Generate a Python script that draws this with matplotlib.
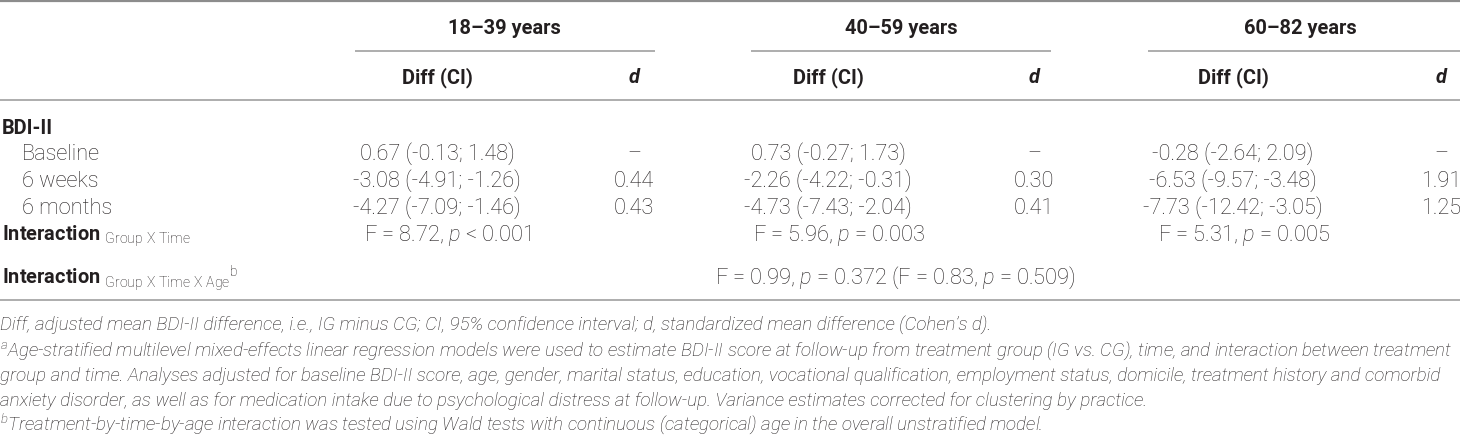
import matplotlib
matplotlib.use("Agg")
import matplotlib.pyplot as plt
from matplotlib import font_manager as fm

# ---------------- data ----------------
groups = ["18–39 years", "40–59 years", "60–82 years"]
col_diff = "Diff (CI)"
col_d = "d"
outcome = "BDI-II"
timepoints = ["Baseline", "6 weeks", "6 months"]
diff_ci = [
    ["0.67 (-0.13; 1.48)", "-3.08 (-4.91; -1.26)", "-4.27 (-7.09; -1.46)"],
    ["0.73 (-0.27; 1.73)", "-2.26 (-4.22; -0.31)", "-4.73 (-7.43; -2.04)"],
    ["-0.28 (-2.64; 2.09)", "-6.53 (-9.57; -3.48)", "-7.73 (-12.42; -3.05)"],
]
d_vals = [
    ["–", "0.44", "0.43"],
    ["–", "0.30", "0.41"],
    ["–", "1.91", "1.25"],
]
inter_F = ["8.72", "5.96", "5.31"]
inter_p = ["< 0.001", "= 0.003", "= 0.005"]
inter3_F = ["0.99", "0.83"]
inter3_p = ["= 0.372", "= 0.509"]
footnotes = [
    "Diff, adjusted mean BDI-II difference, i.e., IG minus CG; CI, 95% confidence interval; d, standardized mean difference (Cohen’s d).",
    "${}^{a}$Age-stratified multilevel mixed-effects linear regression models were used to estimate BDI-II score at follow-up from treatment group (IG vs. CG), time, and interaction between treatment",
    "group and time. Analyses adjusted for baseline BDI-II score, age, gender, marital status, education, vocational qualification, employment status, domicile, treatment history and comorbid",
    "anxiety disorder, as well as for medication intake due to psychological distress at follow-up. Variance estimates corrected for clustering by practice.",
    "${}^{b}$Treatment-by-time-by-age interaction was tested using Wald tests with continuous (categorical) age in the overall unstratified model.",
]

# ---------------- style ----------------
names = {f.name for f in fm.fontManager.ttflist}
FAM = "Roboto" if "Roboto" in names else "Liberation Sans"
LW = "light"
plt.rcParams["font.family"] = [FAM, "DejaVu Sans"]
plt.rcParams["mathtext.fontset"] = "custom"
plt.rcParams["mathtext.rm"] = FAM + ":light"
plt.rcParams["mathtext.it"] = FAM + ":italic:light"
plt.rcParams["mathtext.bf"] = FAM + ":bold"

TXT = "#231f20"
LINE = "#a7a7a7"

W, H = 1460, 436
fig = plt.figure(figsize=(W / 100, H / 100), dpi=100)
ax = fig.add_axes([0, 0, 1, 1])
ax.set_xlim(0, W)
ax.set_ylim(H, 0)
ax.axis("off")
r = fig.canvas.get_renderer()


def width(text, **kw):
    t = ax.text(0, 0, text, fontsize=10, **kw)
    w = t.get_window_extent(r).width
    t.remove()
    return w


FS = 10 * 180 / width("-7.73 (-12.42; -3.05)", fontweight=LW)
FSB = 10 * 113 / width("18–39 years", fontweight="bold")
FSF = 10 * 1454 / max(width(fn, fontstyle="italic", fontweight=LW) for fn in footnotes)

# layout positions (pixels)
header_x = [504, 901, 1300]
diff_x = [437, 828, 1233]
d_x = [634, 1034, 1441]
spans = [(355, 655), (751, 1051), (1148, 1460)]
y_header, y_sub = 28, 77
y_bdi = 128
y_rows = [154, 181, 208]
y_int, y_int3 = 235, 278
y_foot = [325, 350, 375, 400, 424]
OFF = 6  # center -> baseline


def T(x, y, s, size=None, ha="left", weight=LW, **kw):
    ax.text(x, y + OFF, s, fontsize=size or FS, ha=ha, va="baseline",
            color=TXT, fontweight=weight, **kw)


# rules
ax.plot([0, W], [1, 1], color="#8c8c8c", lw=1.6, clip_on=False, solid_capstyle="butt")
for a, b in spans:
    ax.plot([a, b], [51, 51], color=LINE, lw=1.3, solid_capstyle="butt")
ax.plot([0, W], [100, 100], color=LINE, lw=1.3, solid_capstyle="butt")
ax.plot([0, W], [300, 300], color=LINE, lw=1.3, solid_capstyle="butt")

# headers
for i, g in enumerate(groups):
    T(header_x[i], y_header, g, size=FSB, ha="center", weight="bold")
    T(diff_x[i], y_sub, col_diff, size=FSB, ha="center", weight="bold")
    T(d_x[i], y_sub, col_d, size=FSB, ha="center", weight="bold", fontstyle="italic")

# body
T(2, y_bdi, outcome, size=FSB, weight="bold")
for j, tp in enumerate(timepoints):
    T(22, y_rows[j], tp)
    for i in range(3):
        T(diff_x[i], y_rows[j], diff_ci[i][j], ha="center")
        T(d_x[i], y_rows[j], d_vals[i][j], ha="center")

T(2, y_int, r"Interaction ${}_{\mathrm{Group\ X\ Time}}$", size=FSB, weight="bold")
for i in range(3):
    T(diff_x[i] + 11, y_int, "F = %s, $p$ %s" % (inter_F[i], inter_p[i]), ha="center")

T(2, y_int3, r"Interaction ${}_{\mathrm{Group\ X\ Time\ X\ Age}}{}^{\mathrm{b}}$", size=FSB, weight="bold")
T(895, y_int3, "F = %s, $p$ %s (F = %s, $p$ %s)" % (inter3_F[0], inter3_p[0], inter3_F[1], inter3_p[1]), ha="center")

for k, fn in enumerate(footnotes):
    T(0, y_foot[k], fn, size=FSF, fontstyle="italic")

fig.savefig("out.png", dpi=100)
